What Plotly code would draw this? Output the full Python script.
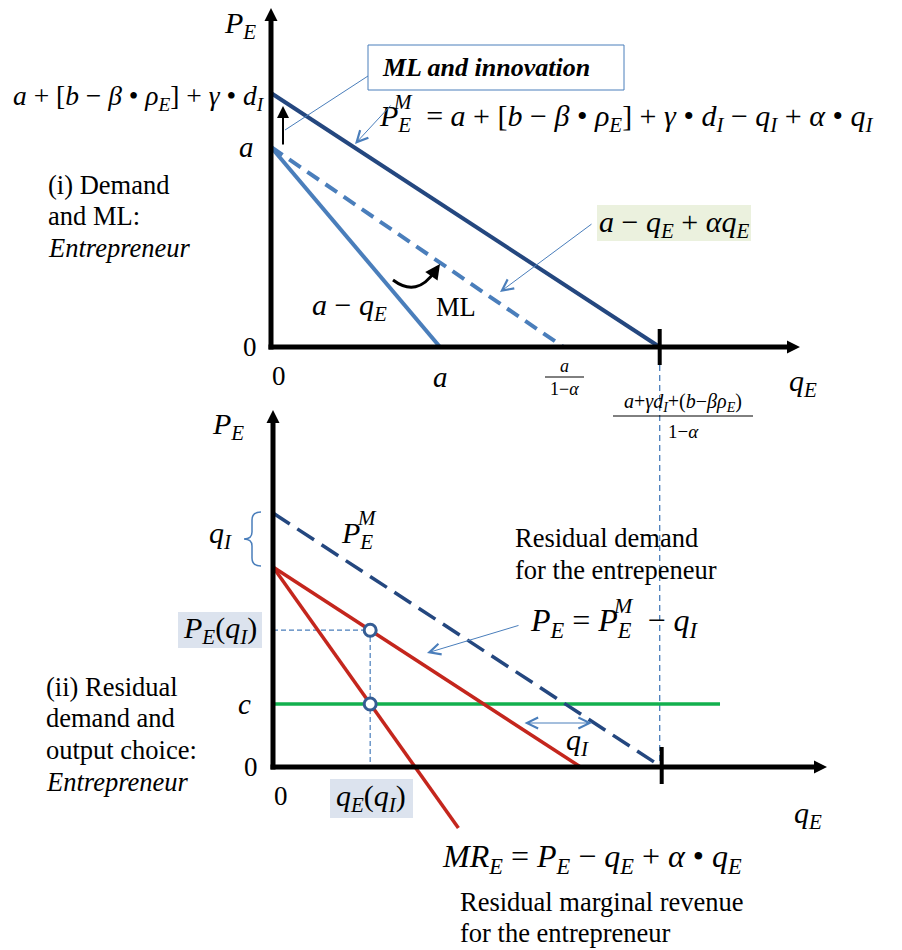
import plotly.graph_objects as go

# ---------------- values ----------------
# Panel (i): demand, market learning (ML) and innovation
a_int = 1.0            # intercept a of the demand a - q_E
demand_q_int = 1.0     # a - q_E reaches zero at q_E = a
ml_q_int = 1.73        # a - q_E + alpha q_E reaches zero at a / (1 - alpha)
pm_p_int = 1.27        # a + [b - beta rho_E] + gamma d_I
pm_q_int = 2.30        # (a + gamma d_I + (b - beta rho_E)) / (1 - alpha)
axis1_q_max = 3.13
axis1_p_max = 1.695

# Panel (ii): residual demand and output choice
q_I = 0.27             # incumbent output shifting P_E^M down
resid_p_int = 1.00     # P_E^M intercept minus q_I
resid_q_int = 1.82
mr_q = [0.0, 1.097]
mr_p = [1.00, -0.305]
c_cost = 0.315
c_q_end = 2.645
q_E_star = 0.575
P_E_star = 0.684
axis2_q_max = 3.278
axis2_p_max = 1.785

# ---------------- layout constants ----------------
W, H = 902, 950
PX_Q, PX_P = 169.0, 200.0          # pixels per unit on q_E and P_E axes
O1 = (271, 347)                    # origin of panel (i)
O2 = (273, 767)                    # origin of panel (ii)

FONT = "Liberation Serif"
NAVY = "#24477f"
LIGHT = "#4a7ebb"
RED = "#c4261d"
GREEN = "#12b04e"
RING = "#355d94"
BODY = 26.5


def xr(o):
    return [-o[0] / PX_Q, (W - o[0]) / PX_Q]


def yr(o):
    return [-(H - o[1]) / PX_P, o[1] / PX_P]


fig = go.Figure()


def line(xs, ys, panel, color, width, dash=None):
    fig.add_trace(go.Scatter(
        x=xs, y=ys, mode="lines", xaxis="x" if panel == 1 else "x2",
        yaxis="y" if panel == 1 else "y2", hoverinfo="skip",
        line=dict(color=color, width=width, dash=dash)))


def axes(panel, qmax, pmax):
    ax = "x" if panel == 1 else "x2"
    ay = "y" if panel == 1 else "y2"
    gap_q = 10 / PX_Q
    gap_p = 10 / PX_P
    line([0, 0], [-2.5 / PX_P, pmax - gap_p], panel, "black", 5)
    line([-2.5 / PX_Q, qmax - gap_q], [0, 0], panel, "black", 5)
    fig.add_trace(go.Scatter(
        x=[0, qmax], y=[pmax, 0], mode="markers", xaxis=ax, yaxis=ay,
        hoverinfo="skip",
        marker=dict(symbol=["arrow-up", "arrow-right"], size=13,
                    color="black", line=dict(width=0))))


# ---- panel (i) ----
line([pm_q_int, pm_q_int], [-0.09, -2.10], 1, LIGHT, 1.3, "6px,4px")
line([0, demand_q_int], [a_int, 0], 1, LIGHT, 4)
line([0, ml_q_int], [a_int, 0], 1, LIGHT, 4, "14px,8px")
line([0, pm_q_int], [pm_p_int, 0], 1, NAVY, 4)
axes(1, axis1_q_max, axis1_p_max)
line([pm_q_int, pm_q_int], [0.09, -0.09], 1, "black", 4)

# ---- panel (ii) ----
line([0, c_q_end], [c_cost, c_cost], 2, GREEN, 3.5)
line([0, q_E_star, q_E_star], [P_E_star, P_E_star, 0], 2, LIGHT, 1.2,
     "5px,3px")
line([0, resid_q_int], [resid_p_int, 0], 2, RED, 3.5)
line(mr_q, mr_p, 2, RED, 3.5)
line([0, pm_q_int], [pm_p_int, 0], 2, NAVY, 3.5, "20px,9px")
axes(2, axis2_q_max, axis2_p_max)
line([pm_q_int, pm_q_int], [0.10, -0.085], 2, "black", 4)
fig.add_trace(go.Scatter(
    x=[q_E_star, q_E_star], y=[P_E_star, c_cost], mode="markers",
    xaxis="x2", yaxis="y2", hoverinfo="skip",
    marker=dict(size=12, color="white", line=dict(color=RING, width=3))))

# ---------------- text and pointers (pixel overlay x3/y3) ----------------
ann = []
shapes = []


def txt(x, y, s, size=BODY, xanchor="center", color="black"):
    ann.append(dict(x=x, y=y, xref="x3", yref="y3", text=s, showarrow=False,
                    xanchor=xanchor, yanchor="middle",
                    font=dict(family=FONT, size=size, color=color)))


def ptxt(panel, x, y, s, size=27, xanchor="center", yanchor="middle",
         xshift=0, yshift=0):
    ann.append(dict(x=x, y=y, xref="x" if panel == 1 else "x2",
                    yref="y" if panel == 1 else "y2", text=s, showarrow=False,
                    xanchor=xanchor, yanchor=yanchor, xshift=xshift,
                    yshift=yshift, font=dict(family=FONT, size=size,
                                             color="black")))


def arrow(x, y, axp, ayp, color=LIGHT, width=1, head=5, size=2.2, both=False):
    ann.append(dict(x=x, y=y, ax=axp, ay=ayp, xref="x3", yref="y3",
                    axref="x3", ayref="y3", text="", showarrow=True,
                    arrowhead=head, startarrowhead=head, arrowsize=size,
                    startarrowsize=size, arrowwidth=width, arrowcolor=color,
                    arrowside="end+start" if both else "end"))


def seg(x0, y0, x1, y1, color="black", width=1):
    shapes.append(dict(type="line", xref="x3", yref="y3", x0=x0, y0=y0,
                       x1=x1, y1=y1, line=dict(color=color, width=width)))


def rect(x0, y0, x1, y1, fill, border=None):
    shapes.append(dict(type="rect", xref="x3", yref="y3", x0=x0, y0=y0,
                       x1=x1, y1=y1, fillcolor=fill, layer="below",
                       line=dict(color=border or fill,
                                 width=1 if border else 0)))


def I(s):
    return "<i>" + s + "</i>"


def sub(s):
    return "<sub>" + I(s) + "</sub>"


PE = I("P") + sub("E")
QE = I("q") + sub("E")
QI = I("q") + sub("I")
SP = "&nbsp;"

# panel (i) labels
txt(240, 25, PE, 30)
txt(267, 97, I("a") + " + [" + I("b") + " − " + I("β") + " • " + I("ρ") + sub("E")
    + "] + " + I("γ") + " • " + I("d") + sub("I"), 27.5, xanchor="right")
ptxt(1, 0, a_int, I("a"), 29, xanchor="right", xshift=-15)
ptxt(1, 0, 0, "0", 27, xanchor="right", xshift=-12)
ptxt(1, 0, 0, "0", 27, xanchor="left", yanchor="top", xshift=-1, yshift=-12)
ptxt(1, demand_q_int, 0, I("a"), 29, yanchor="top", yshift=-12)
txt(803, 383, QE, 30)

txt(46, 185, "(i) Demand", xanchor="left")
txt(46, 216, "and ML:", xanchor="left")
txt(46, 248, I("Entrepreneur"), xanchor="left")

rect(368, 45, 624, 90, "white", LIGHT)
txt(380, 67, "<b><i>ML and innovation</i></b>", 26, xanchor="left")
seg(368, 76, 285, 130, LIGHT, 1)
arrow(283, 106, 283, 146, color="black", width=2, head=2, size=1.2)

txt(377, 118, PE + SP + " = " + I("a") + " + [" + I("b") + " − " + I("β") + " • "
    + I("ρ") + sub("E") + "] + " + I("γ") + " • " + I("d") + sub("I") + " − "
    + QI + " + " + I("α") + " • " + QI, 30, xanchor="left")
txt(403, 102, I("M"), 21)
arrow(355, 144, 392, 104)

rect(597, 205, 751, 241, "#ebf1de")
txt(674, 224, I("a") + " − " + QE + " + " + I("αq") + sub("E"), 30)
arrow(500, 292, 593, 223)

txt(349, 307, I("a") + " − " + QE, 30)
txt(456, 307, "ML", BODY)

shapes.append(dict(type="path", xref="x3", yref="y3",
                   path="M 393 280 Q 417 298 435 271",
                   line=dict(color="black", width=3)))
arrow(440, 264, 433, 274, color="black", width=3, head=2, size=1.0)

# fractions under the q_E axis of panel (i)
txt(564, 366, I("a"), 18)
seg(545, 377, 584, 377, "black", 1)
txt(564, 389, "1−" + I("α"), 18)
txt(683, 402, I("a") + "+" + I("γd") + sub("I") + "+(" + I("b") + "−" + I("βρ")
    + sub("E") + ")", 20)
seg(613, 416, 753, 416, "black", 1)
txt(683, 431, "1−" + I("α"), 19)

# panel (ii) labels
txt(228, 426, PE, 30)
shapes.append(dict(type="path", xref="x3", yref="y3",
                   path="M 261 512 Q 252 512 252 520 L 252 532 Q 252 539 244 539"
                        " Q 252 539 252 546 L 252 558 Q 252 566 261 566",
                   line=dict(color=LIGHT, width=1.5)))
txt(220, 535, QI, 30)
txt(357, 535, PE, 30)
txt(367, 518, I("M"), 21)

txt(513, 538, "Residual demand", xanchor="left")
txt(513, 570, "for the entrepeneur", xanchor="left")

txt(528, 622, PE + " = " + PE + SP + " − " + QI, 32, xanchor="left")
txt(623, 605, I("M"), 22)
arrow(427, 653, 520, 625)

rect(178, 612, 262, 648, "#dce3ee")
txt(220, 630, PE + "(" + QI + ")", 30)
ptxt(2, 0, c_cost, I("c"), 29, xanchor="right", xshift=-20)
ptxt(2, 0, 0, "0", 27, xanchor="right", xshift=-13)
ptxt(2, 0, 0, "0", 27, xanchor="left", yanchor="top", xshift=-1, yshift=-12)
rect(330, 779, 413, 818, "#dce3ee")
txt(371, 798, QE + "(" + QI + ")", 30)

arrow(592, 723, 523, 723, both=True)
txt(577, 742, QI, 30)
txt(808, 815, QE, 30)

txt(440, 858, I("MR") + sub("E") + " = " + PE + " − " + QE + " + " + I("α")
    + " • " + QE, 32, xanchor="left")
txt(458, 902, "Residual marginal revenue", xanchor="left")
txt(458, 933, "for the entrepreneur", xanchor="left")

txt(44, 687, "(ii) Residual", xanchor="left")
txt(44, 718, "demand and", xanchor="left")
txt(44, 750, "output choice:", xanchor="left")
txt(44, 782, I("Entrepreneur"), xanchor="left")

hidden = dict(visible=False, showgrid=False, zeroline=False, fixedrange=True,
              domain=[0, 1])
fig.update_layout(
    width=W, height=H, margin=dict(l=0, r=0, t=0, b=0, pad=0),
    paper_bgcolor="white", plot_bgcolor="white", showlegend=False,
    xaxis=dict(hidden, range=xr(O1)),
    yaxis=dict(hidden, range=yr(O1)),
    xaxis2=dict(hidden, range=xr(O2), overlaying="x", anchor="y2"),
    yaxis2=dict(hidden, range=yr(O2), overlaying="y", anchor="x2"),
    xaxis3=dict(hidden, range=[0, W], overlaying="x", anchor="y3"),
    yaxis3=dict(hidden, range=[H, 0], overlaying="y", anchor="x3"),
    annotations=ann, shapes=shapes,
)
# invisible point so the pixel overlay axes exist
fig.add_trace(go.Scatter(x=[0], y=[0], xaxis="x3", yaxis="y3", mode="markers",
                         marker=dict(opacity=0), hoverinfo="skip"))

fig.write_html("out.html")
